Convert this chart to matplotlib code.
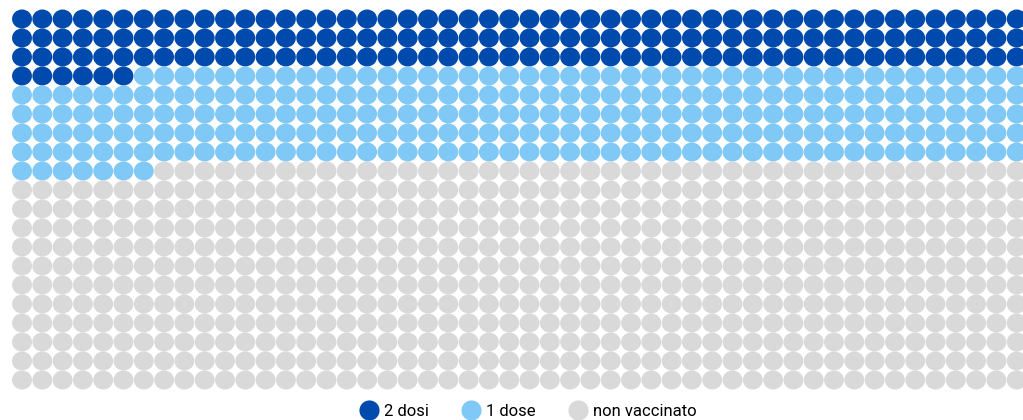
import matplotlib
matplotlib.use("Agg")
import matplotlib.pyplot as plt
import numpy as np
from matplotlib.collections import EllipseCollection
from matplotlib.lines import Line2D

# waffle data: 1000 people, 50 x 20 grid
categories = ["2 dosi", "1 dose", "non vaccinato"]
counts = [156, 251, 593]
colors = ["#004aad", "#80c8f5", "#d9d9d9"]
n_cols = 50
n_rows = 20

plt.rcParams['font.family'] = ['Roboto', 'DejaVu Sans']

fig = plt.figure(figsize=(10.23, 4.2), dpi=100)
ax = fig.add_axes([0, 0, 1, 1])

idx = np.arange(sum(counts))
xs = idx % n_cols
ys = idx // n_cols
cat_of = np.repeat(np.arange(len(counts)), counts)
facecolors = [colors[c] for c in cat_of]

ec = EllipseCollection(widths=0.98, heights=1.0, angles=0, units='xy',
                       offsets=np.column_stack([xs, ys]),
                       offset_transform=ax.transData,
                       facecolors=facecolors, edgecolors='none')
ax.add_collection(ec)

# pixel layout: column pitch ~20.3px, row pitch ~19px
ax.set_xlim(-22 / 20.3, (1023 - 22) / 20.3)
ax.set_ylim((420 - 19) / 19, -19 / 19)
ax.axis('off')

handles = [Line2D([], [], marker='o', linestyle='none', markersize=14.5,
                  markerfacecolor=c, markeredgecolor='none') for c in colors]
fig.legend(handles, categories, loc='center', bbox_to_anchor=(0.517, 0.02),
           ncol=3, frameon=False, fontsize=12, handlelength=0.9,
           handletextpad=0.45, columnspacing=2.1, borderpad=0)

fig.savefig("out.png", dpi=100)
